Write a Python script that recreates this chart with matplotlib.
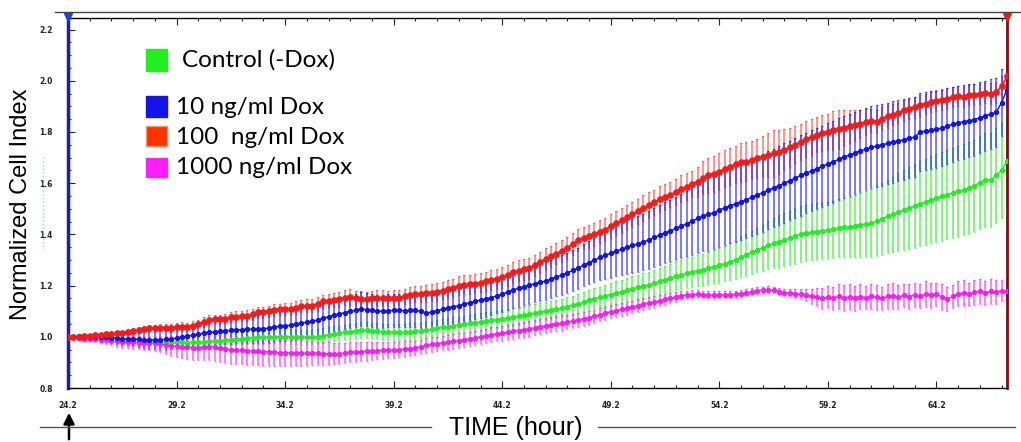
import numpy as np
import matplotlib.pyplot as plt
from matplotlib.patches import Rectangle
from matplotlib.lines import Line2D

W, H = 1021, 442


def fx(x):
    return x / W


def fy(y):
    return 1 - y / H


# sweep times, every 15 min
hours = np.round(np.arange(24.2, 67.46, 0.25), 2)

# 100 ng/ml Dox
red = [
    1.000, 1.000, 1.001, 1.002, 1.004, 1.006, 1.008, 1.010,
    1.012, 1.013, 1.014, 1.018, 1.022, 1.026, 1.030, 1.033,
    1.034, 1.035, 1.036, 1.035, 1.038, 1.040, 1.037, 1.044,
    1.050, 1.058, 1.066, 1.068, 1.068, 1.070, 1.076, 1.079,
    1.080, 1.082, 1.088, 1.095, 1.096, 1.100, 1.105, 1.107,
    1.108, 1.109, 1.114, 1.120, 1.121, 1.121, 1.128, 1.138,
    1.140, 1.143, 1.146, 1.152, 1.155, 1.150, 1.148, 1.146,
    1.150, 1.152, 1.151, 1.150, 1.151, 1.153, 1.158, 1.163,
    1.166, 1.168, 1.170, 1.172, 1.175, 1.180, 1.186, 1.190,
    1.200, 1.204, 1.205, 1.208, 1.212, 1.216, 1.222, 1.226,
    1.232, 1.240, 1.252, 1.258, 1.263, 1.268, 1.280, 1.292,
    1.303, 1.314, 1.325, 1.335, 1.348, 1.362, 1.378, 1.386,
    1.392, 1.400, 1.410, 1.418, 1.432, 1.444, 1.455, 1.466,
    1.478, 1.490, 1.503, 1.514, 1.525, 1.537, 1.546, 1.555,
    1.565, 1.578, 1.586, 1.597, 1.605, 1.622, 1.630, 1.637,
    1.645, 1.656, 1.665, 1.674, 1.681, 1.684, 1.690, 1.697,
    1.703, 1.710, 1.716, 1.722, 1.730, 1.740, 1.750, 1.760,
    1.772, 1.780, 1.790, 1.796, 1.800, 1.806, 1.810, 1.816,
    1.822, 1.826, 1.832, 1.838, 1.843, 1.840, 1.852, 1.862,
    1.868, 1.875, 1.884, 1.890, 1.896, 1.904, 1.910, 1.916,
    1.922, 1.926, 1.930, 1.936, 1.940, 1.936, 1.944, 1.946,
    1.948, 1.952, 1.950, 1.955, 1.978, 2.017,
]
red_err = [
    0.003, 0.004, 0.005, 0.006, 0.007, 0.008, 0.008, 0.009,
    0.010, 0.010, 0.010, 0.011, 0.012, 0.012, 0.013, 0.013,
    0.014, 0.014, 0.015, 0.015, 0.016, 0.016, 0.016, 0.017,
    0.017, 0.018, 0.018, 0.018, 0.019, 0.019, 0.020, 0.020,
    0.020, 0.021, 0.021, 0.022, 0.022, 0.022, 0.023, 0.023,
    0.024, 0.024, 0.025, 0.025, 0.026, 0.026, 0.027, 0.027,
    0.028, 0.028, 0.029, 0.029, 0.030, 0.030, 0.030, 0.030,
    0.030, 0.030, 0.030, 0.030, 0.030, 0.030, 0.030, 0.030,
    0.032, 0.032, 0.033, 0.033, 0.034, 0.034, 0.035, 0.035,
    0.036, 0.036, 0.037, 0.037, 0.038, 0.038, 0.039, 0.039,
    0.040, 0.040, 0.040, 0.040, 0.041, 0.041, 0.041, 0.041,
    0.042, 0.042, 0.042, 0.042, 0.043, 0.043, 0.043, 0.043,
    0.045, 0.045, 0.045, 0.045, 0.048, 0.048, 0.048, 0.048,
    0.050, 0.050, 0.050, 0.050, 0.050, 0.050, 0.050, 0.050,
    0.052, 0.052, 0.052, 0.052, 0.060, 0.065, 0.070, 0.070,
    0.072, 0.072, 0.072, 0.072, 0.075, 0.075, 0.075, 0.075,
    0.080, 0.085, 0.090, 0.085, 0.080, 0.075, 0.072, 0.070,
    0.070, 0.070, 0.070, 0.070, 0.072, 0.075, 0.075, 0.070,
    0.065, 0.060, 0.055, 0.050, 0.045, 0.045, 0.045, 0.045,
    0.040, 0.040, 0.040, 0.040, 0.040, 0.040, 0.040, 0.040,
    0.040, 0.040, 0.040, 0.040, 0.040, 0.040, 0.040, 0.040,
    0.040, 0.040, 0.040, 0.040, 0.040, 0.040,
]

# 10 ng/ml Dox
blue = [
    1.000, 1.000, 1.002, 1.001, 1.000, 1.001, 0.999, 0.998,
    0.996, 0.994, 0.993, 0.992, 0.991, 0.990, 0.989, 0.988,
    0.988, 0.988, 0.990, 0.992, 0.995, 0.999, 1.002, 1.006,
    1.010, 1.014, 1.017, 1.019, 1.021, 1.023, 1.025, 1.027,
    1.028, 1.029, 1.030, 1.031, 1.031, 1.034, 1.038, 1.041,
    1.043, 1.045, 1.049, 1.053, 1.057, 1.060, 1.066, 1.072,
    1.078, 1.084, 1.089, 1.094, 1.100, 1.104, 1.108, 1.106,
    1.103, 1.100, 1.099, 1.102, 1.103, 1.103, 1.102, 1.103,
    1.103, 1.100, 1.093, 1.096, 1.102, 1.107, 1.113, 1.118,
    1.122, 1.128, 1.133, 1.138, 1.143, 1.148, 1.153, 1.160,
    1.166, 1.175, 1.183, 1.189, 1.195, 1.202, 1.207, 1.213,
    1.218, 1.225, 1.234, 1.241, 1.250, 1.259, 1.268, 1.281,
    1.290, 1.300, 1.310, 1.318, 1.326, 1.335, 1.342, 1.350,
    1.357, 1.362, 1.370, 1.378, 1.388, 1.397, 1.406, 1.414,
    1.423, 1.432, 1.442, 1.452, 1.462, 1.472, 1.478, 1.485,
    1.495, 1.504, 1.512, 1.520, 1.527, 1.535, 1.545, 1.554,
    1.563, 1.572, 1.581, 1.590, 1.600, 1.610, 1.620, 1.630,
    1.639, 1.648, 1.657, 1.666, 1.675, 1.684, 1.693, 1.702,
    1.710, 1.718, 1.726, 1.733, 1.740, 1.745, 1.750, 1.755,
    1.760, 1.765, 1.770, 1.775, 1.780, 1.800, 1.803, 1.806,
    1.810, 1.815, 1.822, 1.830, 1.836, 1.840, 1.844, 1.848,
    1.856, 1.862, 1.870, 1.876, 1.915, 1.965,
]
blue_err = [
    0.004, 0.006, 0.008, 0.010, 0.012, 0.014, 0.016, 0.018,
    0.020, 0.022, 0.024, 0.026, 0.028, 0.030, 0.032, 0.034,
    0.036, 0.038, 0.040, 0.041, 0.042, 0.043, 0.044, 0.045,
    0.046, 0.047, 0.048, 0.049, 0.050, 0.051, 0.052, 0.053,
    0.054, 0.055, 0.056, 0.056, 0.057, 0.057, 0.058, 0.058,
    0.058, 0.059, 0.059, 0.060, 0.060, 0.061, 0.061, 0.062,
    0.062, 0.063, 0.063, 0.064, 0.064, 0.064, 0.065, 0.065,
    0.065, 0.065, 0.065, 0.065, 0.065, 0.065, 0.065, 0.065,
    0.066, 0.066, 0.066, 0.066, 0.067, 0.067, 0.067, 0.067,
    0.068, 0.068, 0.068, 0.068, 0.069, 0.069, 0.069, 0.069,
    0.070, 0.070, 0.071, 0.071, 0.072, 0.072, 0.073, 0.073,
    0.074, 0.075, 0.076, 0.077, 0.078, 0.079, 0.080, 0.082,
    0.084, 0.087, 0.090, 0.093, 0.096, 0.099, 0.102, 0.105,
    0.107, 0.109, 0.111, 0.113, 0.115, 0.117, 0.119, 0.121,
    0.123, 0.126, 0.129, 0.132, 0.135, 0.138, 0.141, 0.143,
    0.145, 0.146, 0.147, 0.148, 0.149, 0.150, 0.150, 0.151,
    0.152, 0.152, 0.153, 0.154, 0.155, 0.155, 0.156, 0.157,
    0.157, 0.158, 0.158, 0.159, 0.160, 0.160, 0.160, 0.160,
    0.160, 0.160, 0.160, 0.160, 0.160, 0.160, 0.160, 0.160,
    0.159, 0.158, 0.157, 0.156, 0.155, 0.154, 0.153, 0.152,
    0.150, 0.149, 0.148, 0.146, 0.145, 0.144, 0.142, 0.140,
    0.139, 0.138, 0.136, 0.135, 0.130, 0.060,
]

# Control (-Dox)
green = [
    1.000, 1.000, 0.999, 0.999, 0.999, 0.998, 0.998, 0.997,
    0.995, 0.993, 0.991, 0.990, 0.989, 0.987, 0.985, 0.984,
    0.982, 0.981, 0.979, 0.978, 0.978, 0.978, 0.977, 0.978,
    0.979, 0.980, 0.982, 0.983, 0.984, 0.986, 0.989, 0.991,
    0.993, 0.995, 0.997, 0.998, 0.999, 1.000, 1.001, 1.001,
    1.001, 1.001, 0.999, 0.998, 0.999, 0.999, 1.000, 1.004,
    1.008, 1.012, 1.014, 1.017, 1.020, 1.024, 1.025, 1.025,
    1.024, 1.022, 1.020, 1.018, 1.017, 1.017, 1.018, 1.020,
    1.021, 1.023, 1.026, 1.030, 1.033, 1.037, 1.040, 1.043,
    1.046, 1.049, 1.052, 1.055, 1.058, 1.061, 1.064, 1.067,
    1.070, 1.073, 1.077, 1.080, 1.084, 1.088, 1.092, 1.096,
    1.100, 1.104, 1.108, 1.113, 1.118, 1.124, 1.129, 1.136,
    1.143, 1.148, 1.154, 1.160, 1.165, 1.171, 1.176, 1.182,
    1.188, 1.193, 1.198, 1.203, 1.209, 1.216, 1.223, 1.230,
    1.236, 1.242, 1.248, 1.254, 1.258, 1.262, 1.268, 1.274,
    1.280, 1.286, 1.294, 1.301, 1.310, 1.320, 1.330, 1.339,
    1.348, 1.357, 1.365, 1.372, 1.379, 1.386, 1.393, 1.400,
    1.405, 1.408, 1.411, 1.414, 1.416, 1.420, 1.424, 1.427,
    1.430, 1.433, 1.437, 1.440, 1.444, 1.452, 1.461, 1.470,
    1.478, 1.487, 1.496, 1.503, 1.511, 1.519, 1.527, 1.535,
    1.542, 1.548, 1.555, 1.562, 1.568, 1.574, 1.580, 1.590,
    1.602, 1.612, 1.613, 1.630, 1.650, 1.685,
]
green_err = [
    0.002, 0.003, 0.004, 0.005, 0.006, 0.007, 0.008, 0.008,
    0.009, 0.010, 0.010, 0.011, 0.012, 0.012, 0.013, 0.014,
    0.014, 0.015, 0.016, 0.016, 0.017, 0.018, 0.018, 0.019,
    0.020, 0.020, 0.021, 0.021, 0.022, 0.022, 0.023, 0.023,
    0.024, 0.024, 0.025, 0.025, 0.026, 0.026, 0.027, 0.027,
    0.028, 0.028, 0.028, 0.029, 0.029, 0.029, 0.030, 0.030,
    0.030, 0.030, 0.030, 0.030, 0.031, 0.031, 0.031, 0.031,
    0.031, 0.031, 0.031, 0.031, 0.032, 0.032, 0.032, 0.032,
    0.032, 0.032, 0.032, 0.032, 0.033, 0.033, 0.033, 0.033,
    0.033, 0.033, 0.033, 0.033, 0.034, 0.034, 0.034, 0.034,
    0.034, 0.034, 0.034, 0.034, 0.035, 0.035, 0.035, 0.035,
    0.035, 0.035, 0.035, 0.035, 0.036, 0.037, 0.038, 0.039,
    0.040, 0.041, 0.042, 0.043, 0.044, 0.045, 0.046, 0.047,
    0.048, 0.049, 0.050, 0.050, 0.051, 0.052, 0.053, 0.054,
    0.055, 0.056, 0.057, 0.058, 0.060, 0.062, 0.064, 0.066,
    0.068, 0.070, 0.072, 0.075, 0.078, 0.081, 0.084, 0.087,
    0.090, 0.094, 0.098, 0.102, 0.104, 0.106, 0.108, 0.109,
    0.110, 0.110, 0.110, 0.110, 0.111, 0.112, 0.113, 0.114,
    0.117, 0.120, 0.124, 0.128, 0.132, 0.136, 0.140, 0.144,
    0.148, 0.152, 0.156, 0.160, 0.163, 0.166, 0.168, 0.170,
    0.172, 0.174, 0.175, 0.176, 0.177, 0.178, 0.179, 0.180,
    0.181, 0.182, 0.183, 0.184, 0.185, 0.185,
]

# 1000 ng/ml Dox
magenta = [
    1.000, 0.998, 0.995, 0.993, 0.992, 0.991, 0.989, 0.986,
    0.984, 0.982, 0.980, 0.979, 0.978, 0.977, 0.976, 0.975,
    0.975, 0.972, 0.968, 0.965, 0.964, 0.962, 0.960, 0.958,
    0.958, 0.960, 0.962, 0.960, 0.956, 0.952, 0.950, 0.948,
    0.947, 0.945, 0.944, 0.943, 0.942, 0.941, 0.940, 0.938,
    0.937, 0.937, 0.936, 0.936, 0.936, 0.936, 0.935, 0.934,
    0.934, 0.934, 0.934, 0.936, 0.939, 0.941, 0.942, 0.943,
    0.944, 0.946, 0.947, 0.948, 0.949, 0.950, 0.952, 0.954,
    0.956, 0.960, 0.966, 0.970, 0.973, 0.976, 0.978, 0.982,
    0.985, 0.988, 0.992, 0.996, 0.999, 1.003, 1.008, 1.011,
    1.014, 1.018, 1.021, 1.024, 1.027, 1.031, 1.036, 1.040,
    1.043, 1.047, 1.051, 1.054, 1.057, 1.061, 1.065, 1.070,
    1.075, 1.080, 1.086, 1.092, 1.098, 1.102, 1.107, 1.112,
    1.117, 1.122, 1.127, 1.131, 1.136, 1.141, 1.146, 1.151,
    1.156, 1.161, 1.163, 1.165, 1.166, 1.165, 1.164, 1.163,
    1.164, 1.165, 1.164, 1.166, 1.168, 1.172, 1.176, 1.180,
    1.182, 1.184, 1.183, 1.176, 1.172, 1.170, 1.168, 1.166,
    1.162, 1.158, 1.156, 1.150, 1.155, 1.150, 1.158, 1.152,
    1.156, 1.150, 1.157, 1.153, 1.158, 1.154, 1.150, 1.158,
    1.160, 1.155, 1.162, 1.157, 1.164, 1.160, 1.166, 1.162,
    1.166, 1.155, 1.147, 1.158, 1.168, 1.172, 1.166, 1.174,
    1.177, 1.172, 1.178, 1.176, 1.180, 1.180,
]
magenta_err = [
    0.003, 0.005, 0.007, 0.009, 0.010, 0.012, 0.014, 0.016,
    0.018, 0.020, 0.022, 0.024, 0.025, 0.026, 0.027, 0.028,
    0.030, 0.033, 0.036, 0.040, 0.042, 0.044, 0.046, 0.048,
    0.050, 0.051, 0.052, 0.053, 0.054, 0.055, 0.055, 0.055,
    0.055, 0.056, 0.056, 0.055, 0.055, 0.055, 0.054, 0.054,
    0.053, 0.052, 0.051, 0.050, 0.049, 0.048, 0.046, 0.045,
    0.044, 0.042, 0.041, 0.040, 0.039, 0.038, 0.037, 0.036,
    0.035, 0.034, 0.033, 0.032, 0.031, 0.030, 0.030, 0.029,
    0.028, 0.028, 0.028, 0.028, 0.028, 0.028, 0.028, 0.028,
    0.028, 0.028, 0.028, 0.028, 0.029, 0.029, 0.029, 0.029,
    0.030, 0.030, 0.030, 0.030, 0.030, 0.030, 0.030, 0.030,
    0.030, 0.030, 0.030, 0.030, 0.028, 0.028, 0.028, 0.028,
    0.027, 0.026, 0.026, 0.025, 0.025, 0.025, 0.025, 0.025,
    0.024, 0.024, 0.024, 0.024, 0.023, 0.022, 0.021, 0.020,
    0.019, 0.018, 0.017, 0.016, 0.015, 0.015, 0.015, 0.015,
    0.014, 0.014, 0.014, 0.014, 0.013, 0.013, 0.013, 0.013,
    0.013, 0.013, 0.013, 0.013, 0.014, 0.016, 0.018, 0.020,
    0.024, 0.030, 0.036, 0.040, 0.044, 0.046, 0.048, 0.050,
    0.050, 0.048, 0.050, 0.046, 0.048, 0.050, 0.046, 0.048,
    0.050, 0.048, 0.046, 0.050, 0.048, 0.046, 0.050, 0.048,
    0.046, 0.050, 0.048, 0.046, 0.048, 0.050, 0.046, 0.048,
    0.050, 0.046, 0.048, 0.046, 0.040, 0.030,
]

labels = ['Control (-Dox)', '10 ng/ml Dox', '100  ng/ml Dox', '1000 ng/ml Dox']
c_green = '#22ee22'
c_blue = '#1414e6'
c_red = '#ff1a1a'
c_magenta = '#ff1eff'

fig = plt.figure(figsize=(W / 100, H / 100), dpi=100)
ax = fig.add_axes([fx(68), fy(388), fx(1007) - fx(68), fy(17.5) - fy(388)])

# error bars first (red under blue), means on top
for y, e, c, a in [(green, green_err, c_green, 0.6), (red, red_err, c_red, 0.5),
                   (blue, blue_err, c_blue, 0.6), (magenta, magenta_err, c_magenta, 0.6)]:
    ax.errorbar(hours, y, yerr=e, fmt='none', ecolor=c, elinewidth=1.3,
                capsize=1.0, capthick=1.0, alpha=a, zorder=2)

ax.plot(hours, green, '-o', color=c_green, ms=2.8, lw=1, zorder=4)
ax.plot(hours, magenta, '-o', color=c_magenta, ms=2.8, lw=1, zorder=4)
ax.plot(hours, blue, '-o', color=c_blue, ms=2.8, lw=1, zorder=5)
ax.plot(hours, red, '-o', color=c_red, ms=3.8, lw=1.2, zorder=6)

ax.set_xlim(24.2, 67.45)
ax.set_ylim(0.8, 2.247)

ax.set_xticks(np.arange(24.2, 65, 5))
ax.set_xticklabels(['%.1f' % v for v in np.arange(24.2, 65, 5)])
ax.set_xticks(np.arange(24.2, 67.5, 1), minor=True)
ax.set_yticks(np.arange(0.8, 2.21, 0.2))
ax.set_yticklabels(['%.1f' % v for v in np.arange(0.8, 2.21, 0.2)])
ax.set_yticks(np.arange(0.8, 2.25, 0.05), minor=True)
ax.tick_params(which='both', direction='in', top=True, width=0.8, colors='#222222')
ax.tick_params(which='major', length=5)
ax.tick_params(which='minor', length=2.5)
ax.tick_params(axis='x', labelsize=5.5, pad=9)
ax.tick_params(axis='y', labelsize=5.5, pad=11)
for lab in ax.get_xticklabels() + ax.get_yticklabels():
    lab.set_fontweight('bold')

ax.spines['left'].set_color('#1a1acc')
ax.spines['left'].set_linewidth(2.5)
ax.spines['right'].set_color('#7a1010')
ax.spines['right'].set_linewidth(2)
ax.spines['top'].set_linewidth(1)
ax.spines['bottom'].set_linewidth(1)

ax.plot([24.2], [2.247], marker='v', color='#2040e0', ms=6, clip_on=False, zorder=10)
ax.plot([67.45], [2.247], marker='v', color='#e02020', ms=6, clip_on=False, zorder=10)

# frame decorations
fig.add_artist(Line2D([fx(55), 1], [fy(12), fy(12)], color='#444444', lw=1))
fig.add_artist(Line2D([fx(40), fx(431)], [fy(427), fy(427)], color='#555555', lw=1))
fig.add_artist(Line2D([fx(598), fx(1015)], [fy(427), fy(427)], color='#555555', lw=1))
fig.add_artist(Line2D([fx(43), fx(43)], [fy(157), fy(250)], color='#a8c8f0', lw=1, ls=':'))

fig.text(fx(21), fy(204), 'Normalized Cell Index', rotation=90, ha='center', va='center',
         fontsize=17, family='Liberation Sans')
fig.text(fx(516), fy(428), 'TIME (hour)', ha='center', va='center',
         fontsize=18, family='Liberation Sans')
ax.annotate('', xy=(fx(69), fy(410)), xycoords='figure fraction',
            xytext=(fx(69), fy(442)), textcoords='figure fraction',
            arrowprops=dict(arrowstyle='-|>', color='black', lw=1.8, mutation_scale=16))

# legend
boxes = [(49, 71, c_green, c_green), (96, 117, c_blue, c_blue),
         (126, 146, '#ff3300', '#ff9060'), (158, 177, c_magenta, c_magenta)]
text_pos = [(182, 60), (176, 107), (176, 137), (176, 168)]
for (top, bot, fc, ec), (tx, ty), lab in zip(boxes, text_pos, labels):
    fig.add_artist(Rectangle((fx(146), fy(bot)), fx(21), (bot - top) / H,
                             transform=fig.transFigure, facecolor=fc, edgecolor=ec, lw=1))
    fig.text(fx(tx), fy(ty), lab, ha='left', va='center', fontsize=17.5, family='Lato')

fig.savefig('out.png', dpi=100)
